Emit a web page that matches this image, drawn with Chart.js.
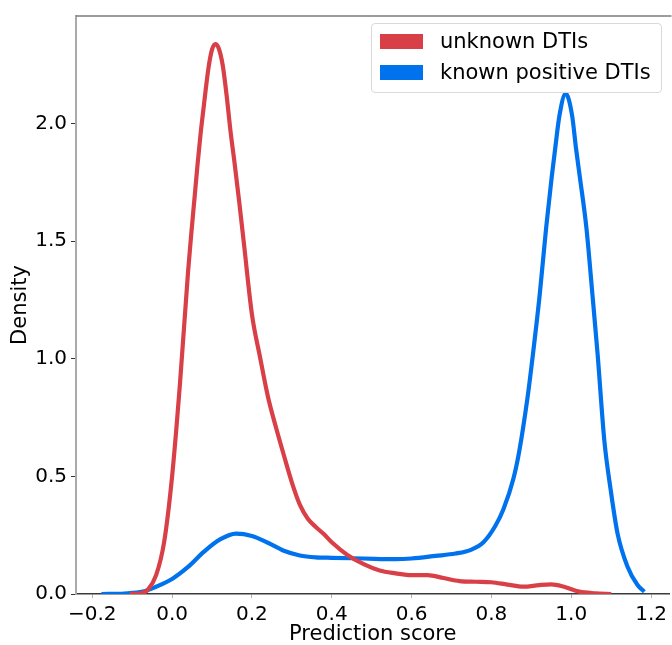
<!DOCTYPE html>
<html>
<head>
<meta charset="utf-8">
<script src="https://cdn.jsdelivr.net/npm/chart.js@4.4.1/dist/chart.umd.min.js"></script>
<style>
  html, body { margin: 0; padding: 0; background: #fff; }
  #wrap { position: relative; width: 672px; height: 645px; overflow: hidden; }
  #legend {
    position: absolute; left: 371px; top: 23px; width: 289px; height: 68px;
    border: 1px solid #d9d9d9; border-radius: 4px; background: rgba(255,255,255,0.8);
    font-family: "DejaVu Sans", sans-serif; font-size: 21px; color: #000;
  }
  .row { position: absolute; left: 0; height: 30px; display: flex; align-items: center; }
  .sw { width: 43px; height: 15px; margin-left: 8px; margin-right: 17px; }
</style>
</head>
<body>
<div id="wrap">
  <canvas id="c" width="672" height="645"></canvas>
  <div id="legend"></div>
</div>
<script>
// ---- data ----
const seriesLabels = ["unknown DTIs", "known positive DTIs"];

const unknownX = [-0.106, -0.08, -0.06, -0.04, -0.02, 0.0, 0.02, 0.04, 0.048, 0.056, 0.064, 0.0716, 0.0798, 0.091, 0.10, 0.1085, 0.117, 0.127, 0.1376, 0.1456, 0.156, 0.168, 0.18, 0.20, 0.22, 0.24, 0.26, 0.28, 0.30, 0.32, 0.34, 0.36, 0.38, 0.40, 0.44, 0.48, 0.52, 0.56, 0.60, 0.64, 0.68, 0.72, 0.76, 0.80, 0.84, 0.88, 0.92, 0.95, 0.98, 1.02, 1.06, 1.10];
const unknownY = [0.0, 0.002, 0.02, 0.08, 0.22, 0.50, 0.90, 1.37, 1.53, 1.68, 1.83, 1.96, 2.08, 2.235, 2.315, 2.339, 2.32, 2.247, 2.106, 1.979, 1.84, 1.67, 1.49, 1.19, 1.01, 0.84, 0.71, 0.59, 0.475, 0.38, 0.32, 0.285, 0.255, 0.22, 0.165, 0.127, 0.10, 0.088, 0.08, 0.08, 0.068, 0.055, 0.052, 0.05, 0.04, 0.031, 0.038, 0.041, 0.032, 0.01, 0.003, 0.0];

const knownX = [-0.177, -0.12, -0.073, -0.04, 0.0, 0.04, 0.08, 0.12, 0.16, 0.20, 0.24, 0.28, 0.32, 0.36, 0.40, 0.48, 0.56, 0.60, 0.66, 0.71, 0.75, 0.78, 0.81, 0.83, 0.855, 0.87, 0.89, 0.904, 0.921, 0.937, 0.9506, 0.9597, 0.9706, 0.986, 1.002, 1.012, 1.022, 1.038, 1.053, 1.066, 1.083, 1.099, 1.116, 1.141, 1.166, 1.183];
const knownY = [0.0, 0.002, 0.01, 0.031, 0.064, 0.115, 0.18, 0.232, 0.257, 0.247, 0.218, 0.184, 0.164, 0.156, 0.154, 0.151, 0.148, 0.151, 0.162, 0.172, 0.189, 0.22, 0.29, 0.36, 0.49, 0.61, 0.83, 1.02, 1.274, 1.556, 1.767, 1.894, 2.036, 2.128, 2.036, 1.894, 1.767, 1.556, 1.274, 1.02, 0.65, 0.44, 0.257, 0.116, 0.038, 0.01];

const xTicks = [-0.2, 0.0, 0.2, 0.4, 0.6, 0.8, 1.0, 1.2];
const yTicks = [0.0, 0.5, 1.0, 1.5, 2.0];
const xLabel = "Prediction score";
const yLabel = "Density";

const colors = ["#d93f46", "#0072ee"];

function pts(xs, ys) { return xs.map((x, i) => ({ x: x, y: ys[i] })); }
function fmt(v) { const s = Math.abs(v).toFixed(1); return v < 0 ? "\u2212" + s : s; }

const FONT = "DejaVu Sans";

const topSpine = {
  id: 'topSpine',
  afterDraw(chart) {
    const { ctx, chartArea } = chart;
    ctx.save();
    ctx.strokeStyle = '#7a7a7a';
    ctx.lineWidth = 1.5;
    ctx.beginPath();
    ctx.moveTo(chartArea.left, chartArea.top);
    ctx.lineTo(chartArea.right + 2, chartArea.top);
    ctx.stroke();
    ctx.restore();
  }
};

const chart = new Chart(document.getElementById('c'), {
  type: 'line',
  data: {
    datasets: [
      { label: seriesLabels[0], data: pts(unknownX, unknownY), borderColor: colors[0], backgroundColor: colors[0],
        borderWidth: 4.2, pointRadius: 0, fill: false, cubicInterpolationMode: 'monotone' },
      { label: seriesLabels[1], data: pts(knownX, knownY), borderColor: colors[1], backgroundColor: colors[1],
        borderWidth: 4.2, pointRadius: 0, fill: false, cubicInterpolationMode: 'monotone' }
    ]
  },
  options: {
    responsive: false,
    animation: false,
    devicePixelRatio: 1,
    layout: { padding: { top: 13, left: 0, right: 0, bottom: 0 } },
    plugins: { legend: { display: false }, tooltip: { enabled: false } },
    scales: {
      x: {
        type: 'linear', min: -0.2407, max: 1.246,
        afterBuildTicks: s => { s.ticks = xTicks.map(v => ({ value: v })); },
        afterFit: s => { s.height = 51; },
        ticks: { callback: v => fmt(v), color: '#000', font: { family: FONT, size: 20 }, padding: 5, maxRotation: 0, autoSkip: false },
        grid: { display: true, drawOnChartArea: false, drawTicks: true, tickLength: 4, tickColor: '#b0b0b0' },
        border: { display: true, color: '#3a3a3a', width: 1.5 },
        title: { display: true, text: xLabel, color: '#000', font: { family: FONT, size: 21, lineHeight: 1.0 }, padding: { top: 0, bottom: 0 } }
      },
      y: {
        type: 'linear', min: 0, max: 2.458,
        afterBuildTicks: s => { s.ticks = yTicks.map(v => ({ value: v })); },
        afterFit: s => { s.width = 76; },
        ticks: { callback: v => v.toFixed(1), color: '#000', font: { family: FONT, size: 20 }, padding: 4, autoSkip: false },
        grid: { display: true, drawOnChartArea: false, drawTicks: true, tickLength: 5, tickColor: '#333' },
        border: { display: true, color: '#aaaaaa', width: 2 },
        title: { display: true, text: yLabel, color: '#000', font: { family: FONT, size: 21 }, padding: { top: 8, bottom: 0 } }
      }
    }
  },
  plugins: [topSpine]
});

// HTML legend built from the datasets
const leg = document.getElementById('legend');
chart.data.datasets.forEach((ds, i) => {
  const row = document.createElement('div');
  row.className = 'row';
  row.style.top = (2 + i * 31) + 'px';
  const sw = document.createElement('div');
  sw.className = 'sw';
  sw.style.background = ds.borderColor;
  const tx = document.createElement('span');
  tx.textContent = ds.label;
  row.appendChild(sw); row.appendChild(tx);
  leg.appendChild(row);
});
</script>
</body>
</html>
